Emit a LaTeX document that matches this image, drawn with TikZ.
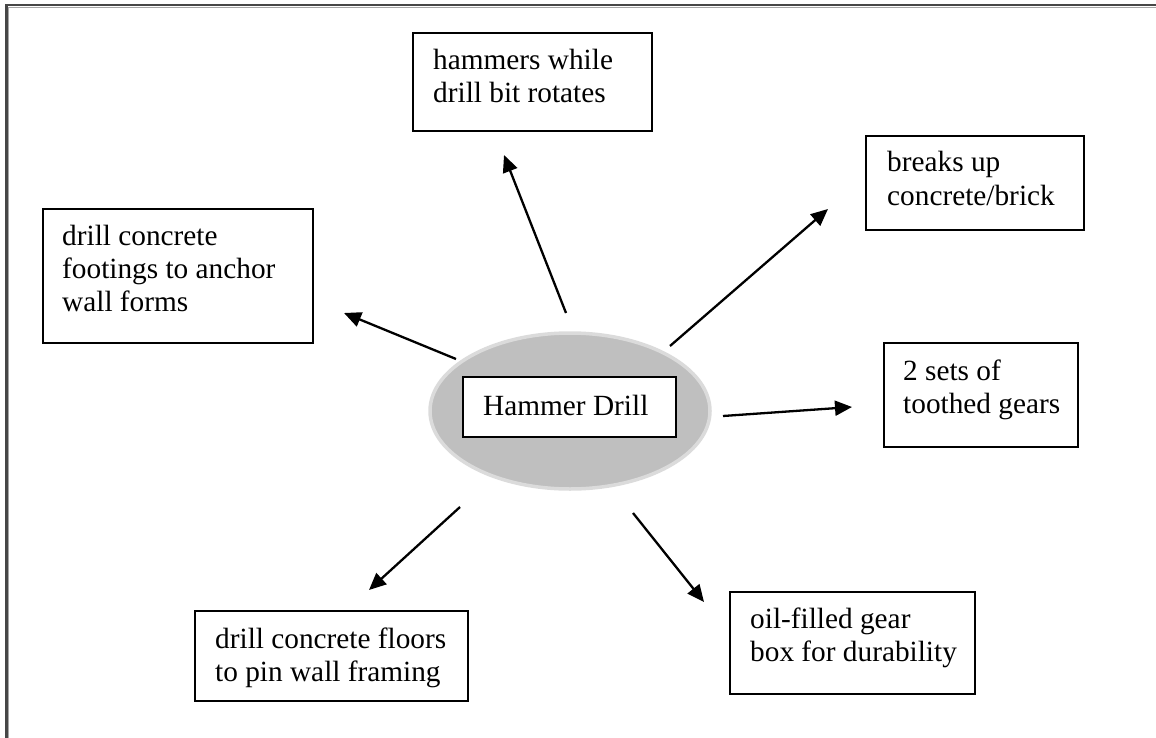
\documentclass[tikz,border=0pt]{standalone}
\usepackage{fontspec}
\setmainfont{Liberation Serif}
\usetikzlibrary{arrows.meta,shapes.geometric}
\begin{document}
\begin{tikzpicture}[x=1pt,y=-1pt,
  boxnode/.style={draw=black, line width=1.8pt, inner sep=0pt, anchor=north west},
  txt/.style={anchor=base west, inner sep=0pt, align=left, font=\fontsize{29.3}{33}\selectfont},
  arr/.style={line width=2.3pt, -{Triangle[length=17pt,width=15pt]}}
]
\useasboundingbox (0,0) rectangle (1156,738);
% frame
\draw[line width=2.4pt, black!72] (6.5,738) -- (6.5,5.2) -- (1156,5.2);
\draw[line width=1.2pt, black!35] (8.6,738) -- (8.6,7.4) -- (1156,7.4);
% boxes (text anchored at the baseline of the last line)
\node[boxnode, minimum width=239, minimum height=98] (top) at (412,32) {};
\node[txt] (toptxt) at (433,103) {hammers while\\drill bit rotates};
\node[boxnode, minimum width=218, minimum height=94] (brk) at (865,135) {};
\node[txt] (brktxt) at (887,205) {breaks up\\concrete/brick};
\node[boxnode, minimum width=270, minimum height=134] (foot) at (42,208) {};
\node[txt] (foottxt) at (62,311) {drill concrete\\footings to anchor\\wall forms};
\node[boxnode, minimum width=194, minimum height=104] (gear) at (883,342) {};
\node[txt] (geartxt) at (903,413) {2 sets of\\toothed gears};
\node[boxnode, minimum width=273, minimum height=90] (floor) at (194,610) {};
\node[txt] (floortxt) at (215,681) {drill concrete floors\\to pin wall framing};
\node[boxnode, minimum width=245, minimum height=102] (oil) at (729,591) {};
\node[txt] (oiltxt) at (750,661) {oil-filled gear\\box for durability};
% center
\node[ellipse, draw=black!14, line width=3.5pt, fill=black!25, minimum width=280, minimum height=156] (ell) at (570,411) {};
\node[boxnode, anchor=center, fill=white, minimum width=213, minimum height=60] (hd) at (569.5,407) {};
\node[txt] (hdtxt) at (483,415) {Hammer Drill};
% arrow coordinates
\coordinate (a1s) at (566,313); \coordinate (a1e) at (504,155);
\coordinate (a2s) at (456,359); \coordinate (a2e) at (344,313);
\coordinate (a3s) at (670,346); \coordinate (a3e) at (828,209);
\coordinate (a4s) at (723,416); \coordinate (a4e) at (852,407);
\coordinate (a5s) at (633,513); \coordinate (a5e) at (704,602);
\coordinate (a6s) at (460,507); \coordinate (a6e) at (369,590);
\draw[arr] (a1s) -- (a1e);
\draw[arr] (a2s) -- (a2e);
\draw[arr] (a3s) -- (a3e);
\draw[arr] (a4s) -- (a4e);
\draw[arr] (a5s) -- (a5e);
\draw[arr] (a6s) -- (a6e);
\end{tikzpicture}
\end{document}
